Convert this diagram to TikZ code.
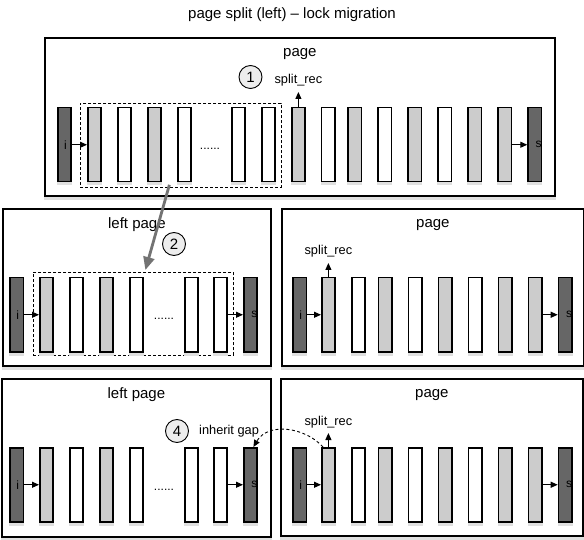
\documentclass[tikz,border=0pt]{standalone}
\usepackage{fontspec}
\setmainfont{Liberation Sans}
\usetikzlibrary{arrows.meta}
\definecolor{bardark}{gray}{0.4}
\definecolor{barlight}{gray}{0.8}
\definecolor{circfill}{gray}{0.93}
\definecolor{shadowc}{gray}{0.88}
\definecolor{arrowgray}{gray}{0.45}
\begin{document}
\begin{tikzpicture}[x=1pt,y=-1pt,
  shad/.style={preaction={fill=shadowc,draw=shadowc,transform canvas={yshift=-3pt}}},
  frame/.style={draw,line width=1.8pt,fill=white,inner sep=0pt,anchor=north west,shad},
  bar/.style={draw,line width=1.5pt,minimum width=13.3pt,minimum height=74pt,inner sep=0pt,anchor=north west,shad},
  barD/.style={bar,fill=bardark},
  barL/.style={bar,fill=barlight},
  barW/.style={bar,fill=white},
  dashbox/.style={draw,dashed,dash pattern=on 3pt off 2pt,line width=0.8pt,inner sep=0pt,anchor=north west},
  head/.style={font=\fontsize{15}{18}\selectfont,inner sep=0pt},
  lab/.style={font=\fontsize{12.8}{15}\selectfont,inner sep=0pt},
  small/.style={font=\fontsize{12}{14}\selectfont,inner sep=0pt},
  num/.style={circle,draw,line width=0.9pt,fill=circfill,minimum size=23pt,inner sep=0pt,font=\fontsize{15}{18}\selectfont},
  ptr/.style={line width=1pt,-{Triangle[length=7pt,width=6pt]}},
]
\useasboundingbox (0,0) rectangle (584,540);

% title
\node[head] (title) at (292,15) {page split (left) \textendash{} lock migration};

% frames
\node[frame,minimum width=510pt,minimum height=158pt] (f1) at (44,37) {};
\node[frame,minimum width=268pt,minimum height=157pt] (f2) at (2,208) {};
\node[frame,minimum width=302pt,minimum height=157pt] (f3) at (281,208) {};
\node[frame,minimum width=269pt,minimum height=158pt] (f4) at (1,378) {};
\node[frame,minimum width=302pt,minimum height=157pt] (f5) at (280,378) {};

\node[head] (h1) at ([yshift=-17pt]f1.north) {page};
\node[head] (h2) at ([yshift=-17pt]f2.north) {left page};
\node[head] (h3) at ([yshift=-17pt]f3.north) {page};
\node[head] (h4) at ([yshift=-17pt]f4.north) {left page};
\node[head] (h5) at ([yshift=-17pt]f5.north) {page};

% dashed boxes
\node[dashbox,minimum width=201pt,minimum height=84pt] (db1) at (80,103) {};
\node[dashbox,minimum width=200pt,minimum height=83pt] (db2) at (33,272) {};

% top row bars
\foreach \x/\s/\k in {57/D/1,87/L/2,117/W/3,147/L/4,177/W/5,231/W/6,261/W/7,291/L/8,
  320.7/W/9,347.3/L/10,377.3/W/11,407.3/L/12,437.3/W/13,467.3/L/14,497.3/L/15,527.3/D/16}
  \node[bar\s] (t\k) at (\x,107) {};
% middle left
\foreach \x/\s/\k in {9.3/D/1,39/L/2,69/W/3,99/L/4,129/W/5,184/W/6,213/W/7,243/D/8}
  \node[bar\s] (m\k) at (\x,277) {};
% middle right
\foreach \x/\s/\k in {292.3/D/1,321/L/2,351/W/3,377.7/L/4,407.7/W/5,437.7/L/6,467.7/W/7,497.7/L/8,527.7/L/9,557.7/D/10}
  \node[bar\s] (n\k) at (\x,277) {};
% bottom left
\foreach \x/\s/\k in {9.3/D/1,39/L/2,69/W/3,99/L/4,129/W/5,184/W/6,213/W/7,243/D/8}
  \node[bar\s] (b\k) at (\x,447) {};
% bottom right
\foreach \x/\s/\k in {292.3/D/1,321/L/2,351/W/3,377.7/L/4,407.7/W/5,437.7/L/6,467.7/W/7,497.7/L/8,527.7/L/9,557.7/D/10}
  \node[bar\s] (c\k) at (\x,447) {};

% i / s labels
\node[small] (ti) at ([xshift=1pt]t1.center) {i};
\node[small] (ts) at ([xshift=4pt]t16.center) {s};
\node[small] (mi) at ([xshift=1pt]m1.center) {i};
\node[small] (ms) at ([xshift=4pt]m8.center) {s};
\node[small] (ni) at ([xshift=1pt]n1.center) {i};
\node[small] (ns) at ([xshift=4pt]n10.center) {s};
\node[small] (bi) at ([xshift=1pt]b1.center) {i};
\node[small] (bs) at ([xshift=4pt]b8.center) {s};
\node[small] (ci) at ([xshift=1pt]c1.center) {i};
\node[small] (cs) at ([xshift=4pt]c10.center) {s};

% pointer arrows
\draw[ptr] (t1.east) -- (t2.west);
\draw[ptr] (t15.east) -- (t16.west);
\draw[ptr] (m1.east) -- (m2.west);
\draw[ptr] (m7.east) -- (m8.west);
\draw[ptr] (n1.east) -- (n2.west);
\draw[ptr] (n9.east) -- (n10.west);
\draw[ptr] (b1.east) -- (b2.west);
\draw[ptr] (b7.east) -- (b8.west);
\draw[ptr] (c1.east) -- (c2.west);
\draw[ptr] (c9.east) -- (c10.west);

% dots
\node[small,anchor=base] (d1) at (210,149.5) {......};
\node[small,anchor=base] (d2) at (164,319.5) {......};
\node[small,anchor=base] (d3) at (164,490) {......};

% split_rec
\node[lab] (sr1) at ([yshift=27pt]t8.north) {split\_rec};
\node[lab] (sr2) at ([yshift=26pt]n2.north) {split\_rec};
\node[lab] (sr3) at ([yshift=25pt]c2.north) {split\_rec};
\draw[ptr] (t8.north) -- ([yshift=15pt]t8.north);
\draw[ptr] (n2.north) -- ([yshift=14pt]n2.north);
\draw[ptr] (c2.north) -- ([yshift=14pt]c2.north);

% step circles
\node[num] (s1) at (250.5,77) {1};
\node[num] (s2) at (174,244) {2};
\node[num] (s4) at (177,431) {4};
\node[lab,anchor=west] (ig) at (199,431) {inherit gap};

% gray migration arrow
\draw[arrowgray,line width=2.8pt,-{Triangle[length=13pt,width=11pt]}]
  ([xshift=-11.5pt,yshift=3pt]db1.south) -- ([xshift=12pt,yshift=2pt]db2.north);

% inherit gap dashed curve
\draw[line width=0.9pt,dashed,dash pattern=on 3pt off 2.5pt,-{Triangle[length=7pt,width=6pt]}]
  ([xshift=2pt]c2.north west) .. controls (305,427) and (268,422) .. ([xshift=3pt]b8.north);
\end{tikzpicture}
\end{document}
